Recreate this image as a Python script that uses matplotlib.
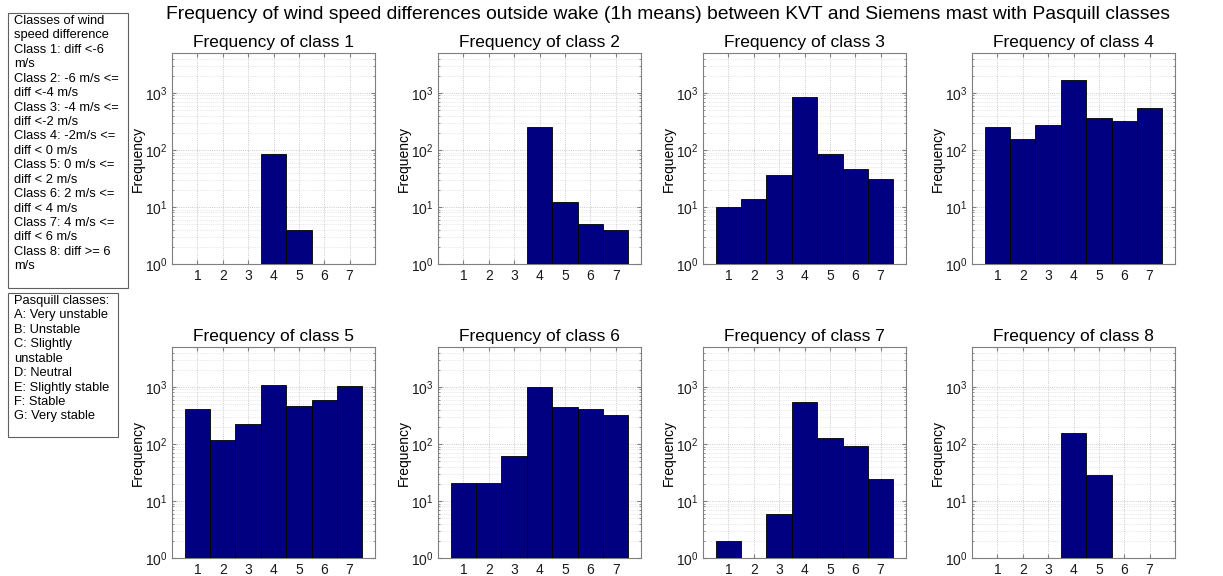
import numpy as np
import matplotlib
matplotlib.use('Agg')
from matplotlib import pyplot as plt
from matplotlib.patches import Rectangle
from matplotlib.ticker import LogLocator, FixedLocator

plt.rcParams['font.family'] = ['Liberation Sans', 'DejaVu Sans']

# pasquill classes A..G shown as 1..7 on the x axis
pasquill_bins = [1, 2, 3, 4, 5, 6, 7]
class_names = ['class 1', 'class 2', 'class 3', 'class 4',
               'class 5', 'class 6', 'class 7', 'class 8']

freq_class1 = [0, 0, 0, 84, 4, 0, 0]
freq_class2 = [0, 0, 0, 257, 12, 5, 4]
freq_class3 = [10, 14, 37, 840, 86, 47, 31]
freq_class4 = [253, 156, 278, 1690, 359, 318, 538]
freq_class5 = [404, 116, 222, 1100, 462, 597, 1028]
freq_class6 = [21, 21, 61, 1000, 440, 405, 327]
freq_class7 = [2, 0, 6, 538, 126, 92, 24]
freq_class8 = [0, 0, 0, 158, 29, 0, 0]

all_freqs = [freq_class1, freq_class2, freq_class3, freq_class4,
             freq_class5, freq_class6, freq_class7, freq_class8]

wind_text = ('Classes of wind\nspeed difference\nClass 1: diff <-6\nm/s\n'
             'Class 2: -6 m/s <=\ndiff <-4 m/s\nClass 3: -4 m/s <=\ndiff <-2 m/s\n'
             'Class 4: -2m/s <=\ndiff < 0 m/s\nClass 5: 0 m/s <=\ndiff < 2 m/s\n'
             'Class 6: 2 m/s <=\ndiff < 4 m/s\nClass 7: 4 m/s <=\ndiff < 6 m/s\n'
             'Class 8: diff >= 6\nm/s')
pasquill_text = ('Pasquill classes:\nA: Very unstable\nB: Unstable\nC: Slightly\nunstable\n'
                 'D: Neutral\nE: Slightly stable\nF: Stable\nG: Very stable')

W, H = 1223, 576
fig = plt.figure(figsize=(W / 100, H / 100), dpi=100)


def px_rect(left, top, w, h):
    return [left / W, 1 - (top + h) / H, w / W, h / H]


lefts = [172, 438, 703, 972]
tops = [53, 347]
ax_w, ax_h = 203, 211
bar_color = '#000080'
frame_color = '#7f7f7f'

for i, freqs in enumerate(all_freqs):
    ax = fig.add_axes(px_rect(lefts[i % 4], tops[i // 4], ax_w, ax_h))
    ax.set_yscale('log')
    xs = [x for x, v in zip(pasquill_bins, freqs) if v > 0]
    vs = [v for v in freqs if v > 0]
    ax.bar(xs, vs, width=1.0, color=bar_color, edgecolor='black', linewidth=0.6, zorder=3)
    ax.set_xlim(0, 8)
    ax.set_ylim(1, 5000)
    ax.xaxis.set_major_locator(FixedLocator(pasquill_bins))
    ax.yaxis.set_major_locator(LogLocator(base=10, numticks=10))
    ax.yaxis.set_minor_locator(LogLocator(base=10, subs=np.arange(2, 10), numticks=20))
    ax.grid(True, which='major', linestyle=':', color='#b8b8b8', linewidth=0.6, zorder=0)
    ax.grid(True, which='minor', axis='y', linestyle=':', color='#d4d4d4', linewidth=0.5, zorder=0)
    ax.tick_params(which='both', direction='in', top=True, right=True, colors=frame_color,
                   labelcolor='#1a1a1a', labelsize=10)
    ax.tick_params(which='major', length=3)
    ax.tick_params(which='minor', length=1.5)
    for sp in ax.spines.values():
        sp.set_color(frame_color)
    ax.set_title(f'Frequency of {class_names[i]}', fontsize=12.5, pad=4)
    ax.set_ylabel('Frequency', fontsize=10, labelpad=0)

fig.suptitle('Frequency of wind speed differences outside wake (1h means) between KVT and Siemens mast with Pasquill classes',
             x=668 / W, y=1 - 6 / H, va='top', fontsize=13.9)

# legend boxes on the left
fig.add_artist(Rectangle((8 / W, 1 - 288 / H), 120 / W, 275 / H, transform=fig.transFigure,
                         facecolor='white', edgecolor='#606060', linewidth=0.8))
fig.text(14 / W, 1 - 15 / H, wind_text, va='top', ha='left', fontsize=9.3, linespacing=1.27)

fig.add_artist(Rectangle((8 / W, 1 - 437 / H), 110 / W, 144 / H, transform=fig.transFigure,
                         facecolor='white', edgecolor='#606060', linewidth=0.8))
fig.text(14 / W, 1 - 295 / H, pasquill_text, va='top', ha='left', fontsize=9.3, linespacing=1.27)

fig.savefig('out.png', dpi=100)
